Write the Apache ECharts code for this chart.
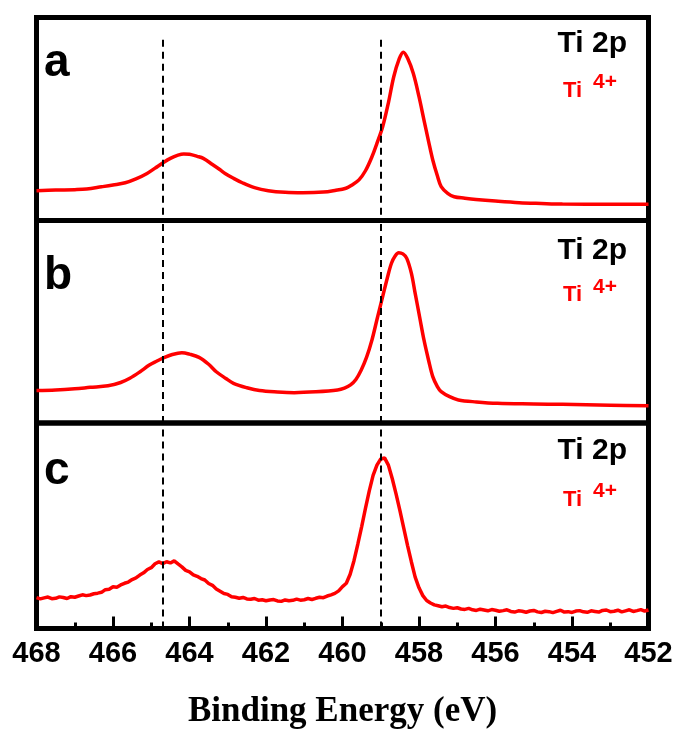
<!DOCTYPE html>
<html>
<head>
<meta charset="utf-8">
<script src="https://cdn.jsdelivr.net/npm/echarts@6/dist/echarts.min.js"></script>
<style>html,body{margin:0;padding:0;background:#fff}#c{width:678px;height:734px}</style>
</head>
<body>
<div id="c"></div>
<script>
// ---- data ----
var xTicks = [468, 466, 464, 462, 460, 458, 456, 454, 452];
var xTitle = 'Binding Energy (eV)';
var panelLabels = ['a', 'b', 'c'];
var dashedEnergies = [464.7, 459.0];

var energyA = [468.0,467.5,467.0,466.69,466.3,466.0,465.68,465.4,465.11,464.9,464.71,464.5,464.3,464.15,464.0,463.8,463.64,463.4,463.2,463.07,462.85,462.62,462.3,461.94,461.5,461.04,460.5,460.2,459.91,459.75,459.57,459.4,459.23,459.1,458.95,458.8,458.66,458.52,458.41,458.3,458.15,458.0,457.87,457.75,457.64,457.52,457.42,457.25,457.08,456.8,456.51,456.0,455.38,454.8,454.25,453.0,452.0];
var intensityA = [14.7,15.0,15.2,15.5,16.6,17.5,18.6,20.5,23.2,25.8,28.2,30.6,32.2,32.8,32.6,31.6,30.6,27.6,25.0,23.2,20.8,18.6,16.2,14.7,13.9,13.7,14.0,14.8,15.9,17.5,20.0,24.5,31.4,38.0,46.2,58.0,70.8,79.5,82.9,80.0,72.5,61.0,49.5,39.0,29.8,22.0,16.7,13.4,11.7,11.0,10.4,9.6,8.8,8.4,8.1,8.0,8.0];

var energyB = [468.0,467.5,467.0,466.6,466.13,465.8,465.56,465.3,465.05,464.85,464.71,464.45,464.2,464.0,463.75,463.5,463.3,463.05,462.85,462.5,462.17,461.7,461.26,460.7,460.13,459.95,459.79,459.65,459.51,459.37,459.23,459.1,458.95,458.83,458.72,458.62,458.53,458.42,458.32,458.2,458.1,457.98,457.87,457.75,457.64,457.52,457.42,457.2,456.97,456.5,455.95,455.0,454.25,453.0,452.0];
var intensityB = [16.0,16.3,16.9,17.6,18.4,20.0,22.1,25.2,28.6,30.6,31.9,33.8,34.7,34.0,32.4,29.0,25.3,22.0,19.6,17.4,16.0,15.3,15.0,15.4,16.3,17.2,18.8,21.5,26.2,32.5,41.0,51.0,62.4,71.5,78.9,82.6,84.1,83.5,81.3,74.0,64.0,52.0,41.0,31.0,22.9,18.0,15.5,13.0,11.4,10.4,9.7,9.4,9.2,8.8,8.5];

var energyC = [468.0,467.9,467.8,467.7,467.6,467.5,467.4,467.3,467.2,467.1,467.0,466.9,466.8,466.7,466.6,466.5,466.4,466.3,466.2,466.1,466.0,465.9,465.8,465.7,465.6,465.5,465.4,465.3,465.2,465.1,465.0,464.9,464.8,464.7,464.6,464.5,464.4,464.3,464.2,464.1,464.0,463.9,463.8,463.7,463.6,463.5,463.4,463.3,463.2,463.1,463.0,462.9,462.8,462.7,462.6,462.5,462.4,462.3,462.2,462.1,462.0,461.9,461.8,461.7,461.6,461.5,461.4,461.3,461.2,461.1,461.0,460.9,460.8,460.7,460.6,460.5,460.4,460.3,460.2,460.1,460.0,459.9,459.8,459.7,459.6,459.5,459.4,459.3,459.2,459.1,459.0,458.9,458.8,458.7,458.6,458.5,458.4,458.3,458.2,458.1,458.0,457.9,457.8,457.7,457.6,457.5,457.4,457.3,457.2,457.1,457.0,456.9,456.8,456.7,456.6,456.5,456.4,456.3,456.2,456.1,456.0,455.9,455.8,455.7,455.6,455.5,455.4,455.3,455.2,455.1,455.0,454.9,454.8,454.7,454.6,454.5,454.4,454.3,454.2,454.1,454.0,453.9,453.8,453.7,453.6,453.5,453.4,453.3,453.2,453.1,453.0,452.9,452.8,452.7,452.6,452.5,452.4,452.3,452.2,452.1,452.0];
var intensityC = [15.0,14.4,14.9,15.3,14.5,14.7,15.4,15.1,14.6,15.5,15.2,
  15.8,16.4,16.0,16.3,16.9,17.2,17.6,18.9,19.1,20.3,
  20.1,21.2,22.0,22.6,23.8,24.6,26.0,27.1,28.7,29.6,
  31.5,32.4,31.6,32.5,31.9,32.9,31.4,30.0,28.3,27.6,
  26.1,25.4,24.3,23.6,21.9,21.0,19.2,18.1,17.0,16.6,
  15.5,15.2,14.7,15.1,14.4,14.2,14.6,13.8,14.0,13.5,
  13.9,14.1,13.4,13.2,13.9,13.5,13.7,14.3,13.8,14.0,
  14.6,14.1,14.7,15.2,15.0,15.8,16.4,17.1,18.3,20.4,
  22.0,26.4,33.0,41.0,49.5,58.5,67.0,74.5,79.5,82.5,
  83.0,79.5,73.0,65.5,57.5,49.0,40.5,32.5,25.0,19.8,
  16.0,13.6,12.4,11.5,11.1,10.6,10.9,10.2,9.8,10.1,
  9.5,9.3,9.8,9.1,8.8,9.4,9.0,8.6,9.2,8.9,
  8.4,8.7,9.1,8.3,8.0,8.6,8.4,7.9,8.5,8.8,
  8.1,7.8,8.4,8.2,7.7,8.3,8.9,8.0,8.2,7.8,
  8.5,8.7,8.1,7.9,8.6,8.3,8.0,8.8,9.0,8.2,
  8.4,8.9,8.1,8.6,9.1,8.3,8.7,9.2,8.5,9.0];

// ---- build ----
function pairs(xs, ys) { return xs.map(function (x, i) { return [x, ys[i]]; }); }
var SANS = 'Liberation Sans, Arial, sans-serif';
var RED = '#ff0000';

var grids = [
  {left: 36.5, right: 29.5, top: 17.5, height: 203},
  {left: 36.5, right: 29.5, top: 220.5, height: 202.5},
  {left: 36.5, right: 29.5, top: 423, height: 205.5}
].map(function (g) {
  g.show = true; g.borderColor = '#000'; g.borderWidth = 5; g.backgroundColor = 'transparent';
  return g;
});

var xAxes = [0, 1, 2].map(function (i) {
  return {
    type: 'value', gridIndex: i, min: 452, max: 468, interval: 2, inverse: true,
    show: i === 2,
    axisLine: {show: false},
    splitLine: {show: false},
    axisTick: {show: true, inside: true, length: 12, lineStyle: {color: '#000', width: 3}},
    minorTick: {show: true, splitNumber: 2, length: 6, lineStyle: {color: '#000', width: 3}},
    axisLabel: {
      show: true, margin: 11, color: '#000', fontSize: 29, fontWeight: 'bold', fontFamily: SANS,
      formatter: function (v) { return xTicks.indexOf(v) >= 0 ? String(v) : ''; }
    }
  };
});
var yAxes = [0, 1, 2].map(function (i) {
  return {type: 'value', gridIndex: i, min: 0, max: 100, show: false, splitLine: {show: false}};
});

var dashStyle = {color: '#000', width: 2, type: [7, 5]};
function markLineFor(i) {
  var data;
  if (i === 0) {
    data = dashedEnergies.map(function (e) { return [{coord: [e, 89]}, {coord: [e, 0]}]; });
  } else {
    data = dashedEnergies.map(function (e) { return {xAxis: e}; });
  }
  return {silent: true, symbol: 'none', label: {show: false}, lineStyle: dashStyle, data: data, animation: false};
}

var seriesData = [pairs(energyA, intensityA), pairs(energyB, intensityB), pairs(energyC, intensityC)];
var series = seriesData.map(function (d, i) {
  return {
    type: 'line', xAxisIndex: i, yAxisIndex: i, data: d, showSymbol: false,
    smooth: i === 2 ? false : 0.35,
    lineStyle: {color: RED, width: 3.5}, itemStyle: {color: RED},
    markLine: markLineFor(i), z: 3
  };
});

var labelY = [40, 253, 448];
var ti2pY = [44, 251, 451];
var tiY = [91, 295, 500];
var supY = [82, 287, 491];
var graphics = [];
for (var i = 0; i < 3; i++) {
  graphics.push({type: 'text', left: 44, top: labelY[i], style: {text: panelLabels[i], font: 'bold 46px ' + SANS, fill: '#000', verticalAlign: 'middle'}, z: 10});
  graphics.push({type: 'text', x: 627, y: ti2pY[i], style: {text: 'Ti 2p', font: 'bold 30px ' + SANS, fill: '#000', align: 'right', verticalAlign: 'middle'}, z: 10});
  graphics.push({type: 'text', x: 563, y: tiY[i], style: {text: 'Ti', font: 'bold 22px ' + SANS, fill: RED, align: 'left', verticalAlign: 'middle'}, z: 10});
  graphics.push({type: 'text', x: 593, y: supY[i], style: {text: '4+', font: 'bold 21px ' + SANS, fill: RED, align: 'left', verticalAlign: 'middle'}, z: 10});
}
graphics.push({type: 'text', x: 342.5, y: 712, style: {text: xTitle, font: 'bold 35px Liberation Serif, Times New Roman, serif', fill: '#000', align: 'center', verticalAlign: 'middle'}, z: 10});

var chart = echarts.init(document.getElementById('c'), null, {renderer: 'canvas'});
chart.setOption({
  animation: false,
  backgroundColor: '#fff',
  grid: grids,
  xAxis: xAxes,
  yAxis: yAxes,
  series: series,
  graphic: graphics
});
</script>
</body>
</html>
